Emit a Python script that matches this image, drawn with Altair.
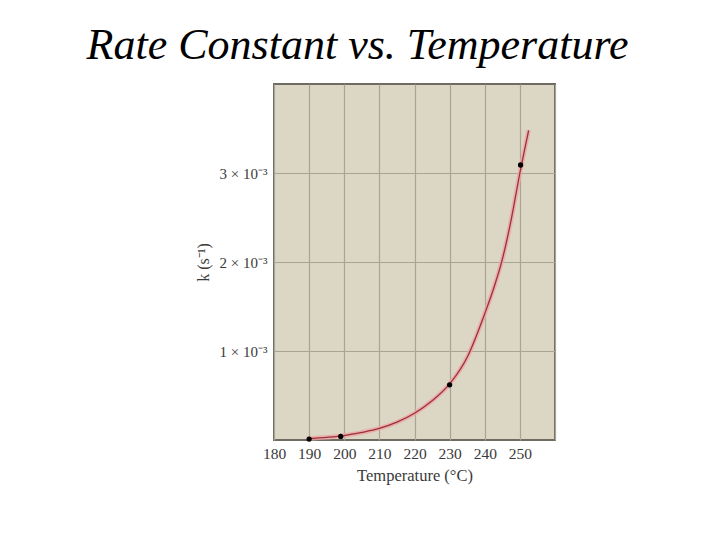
"""Rate constant vs. temperature (first-order isomerization), Altair version."""

import altair as alt
import pandas as pd

# measured rate constants
point_temp = [190.0, 199.0, 230.0, 250.2]
point_k = [0.00001, 0.00004, 0.00062, 0.00309]

# smooth fitted curve
curve_temp = [189.5, 195, 200, 205, 210, 215, 220, 225, 230, 235, 240,
              242.5, 245, 247.5, 250, 252.5]
curve_k = [0.000015, 0.00003, 0.00005, 0.000085, 0.00013, 0.0002, 0.0003,
           0.00044, 0.00063, 0.00093, 0.00142, 0.0017, 0.00203, 0.00247,
           0.003, 0.00348]

x_ticks = [180, 190, 200, 210, 220, 230, 240, 250, 260]
y_ticks = [0.001, 0.002, 0.003]

SERIF = "Liberation Serif"

points_df = pd.DataFrame({"temp": point_temp, "k": point_k})
curve_df = pd.DataFrame({"temp": curve_temp, "k": curve_k})

x_enc = alt.X(
    "temp:Q",
    title="Temperature (°C)",
    scale=alt.Scale(domain=[180, 260], nice=False, zero=False),
    axis=alt.Axis(
        values=x_ticks,
        labelExpr="datum.value == 260 ? '' : datum.label",
        labelOverlap=False, labelFlush=False,
        labelFont=SERIF, labelFontSize=15.5, labelColor="#3a3a3a",
        labelPadding=6, ticks=False, domain=False,
        titleFont=SERIF, titleFontSize=16.5, titleFontWeight="normal",
        titleColor="#3a3a3a", titlePadding=6,
        gridColor="#a9a493", gridWidth=1.2, gridOpacity=1,
    ),
)
y_enc = alt.Y(
    "k:Q",
    title="k (s⁻¹)",
    scale=alt.Scale(domain=[0, 0.004], nice=False),
    axis=alt.Axis(
        values=y_ticks,
        labelExpr="format(datum.value * 1000, 'd') + ' × 10⁻³'",
        labelOverlap=False, labelFlush=False,
        labelFont=SERIF, labelFontSize=15, labelColor="#3a3a3a",
        labelPadding=7, ticks=False, domain=False,
        titleFont=SERIF, titleFontSize=16, titleFontWeight="normal",
        titleColor="#3a3a3a", titlePadding=8,
        gridColor="#a9a493", gridWidth=1.2, gridOpacity=1,
    ),
)

halo = alt.Chart(curve_df).mark_line(
    interpolate="monotone", color="#eba5a5", strokeWidth=4.5, opacity=0.8
).encode(x=x_enc, y=y_enc)

curve = alt.Chart(curve_df).mark_line(
    interpolate="monotone", color="#9c3038", strokeWidth=1.3
).encode(x=x_enc, y=y_enc)

dots = alt.Chart(points_df).mark_circle(
    color="black", size=28, opacity=1
).encode(x=x_enc, y=y_enc)

chart = (
    alt.layer(halo, curve, dots)
    .properties(
        width=281,
        height=356,
        autosize=alt.AutoSizeParams(type="none"),
        padding={"left": 266, "top": 76, "right": 150, "bottom": 70},
        background="white",
        title=alt.TitleParams(
            "Rate Constant vs. Temperature",
            font=SERIF, fontSize=44, fontStyle="italic", fontWeight="normal",
            color="black", anchor="middle", dx=-57, offset=16,
        ),
    )
    .configure_view(fill="#dcd6c5", stroke="#6f6b62", strokeWidth=2)
)

chart.save("out.html", embed_options={"renderer": "svg", "actions": False})
